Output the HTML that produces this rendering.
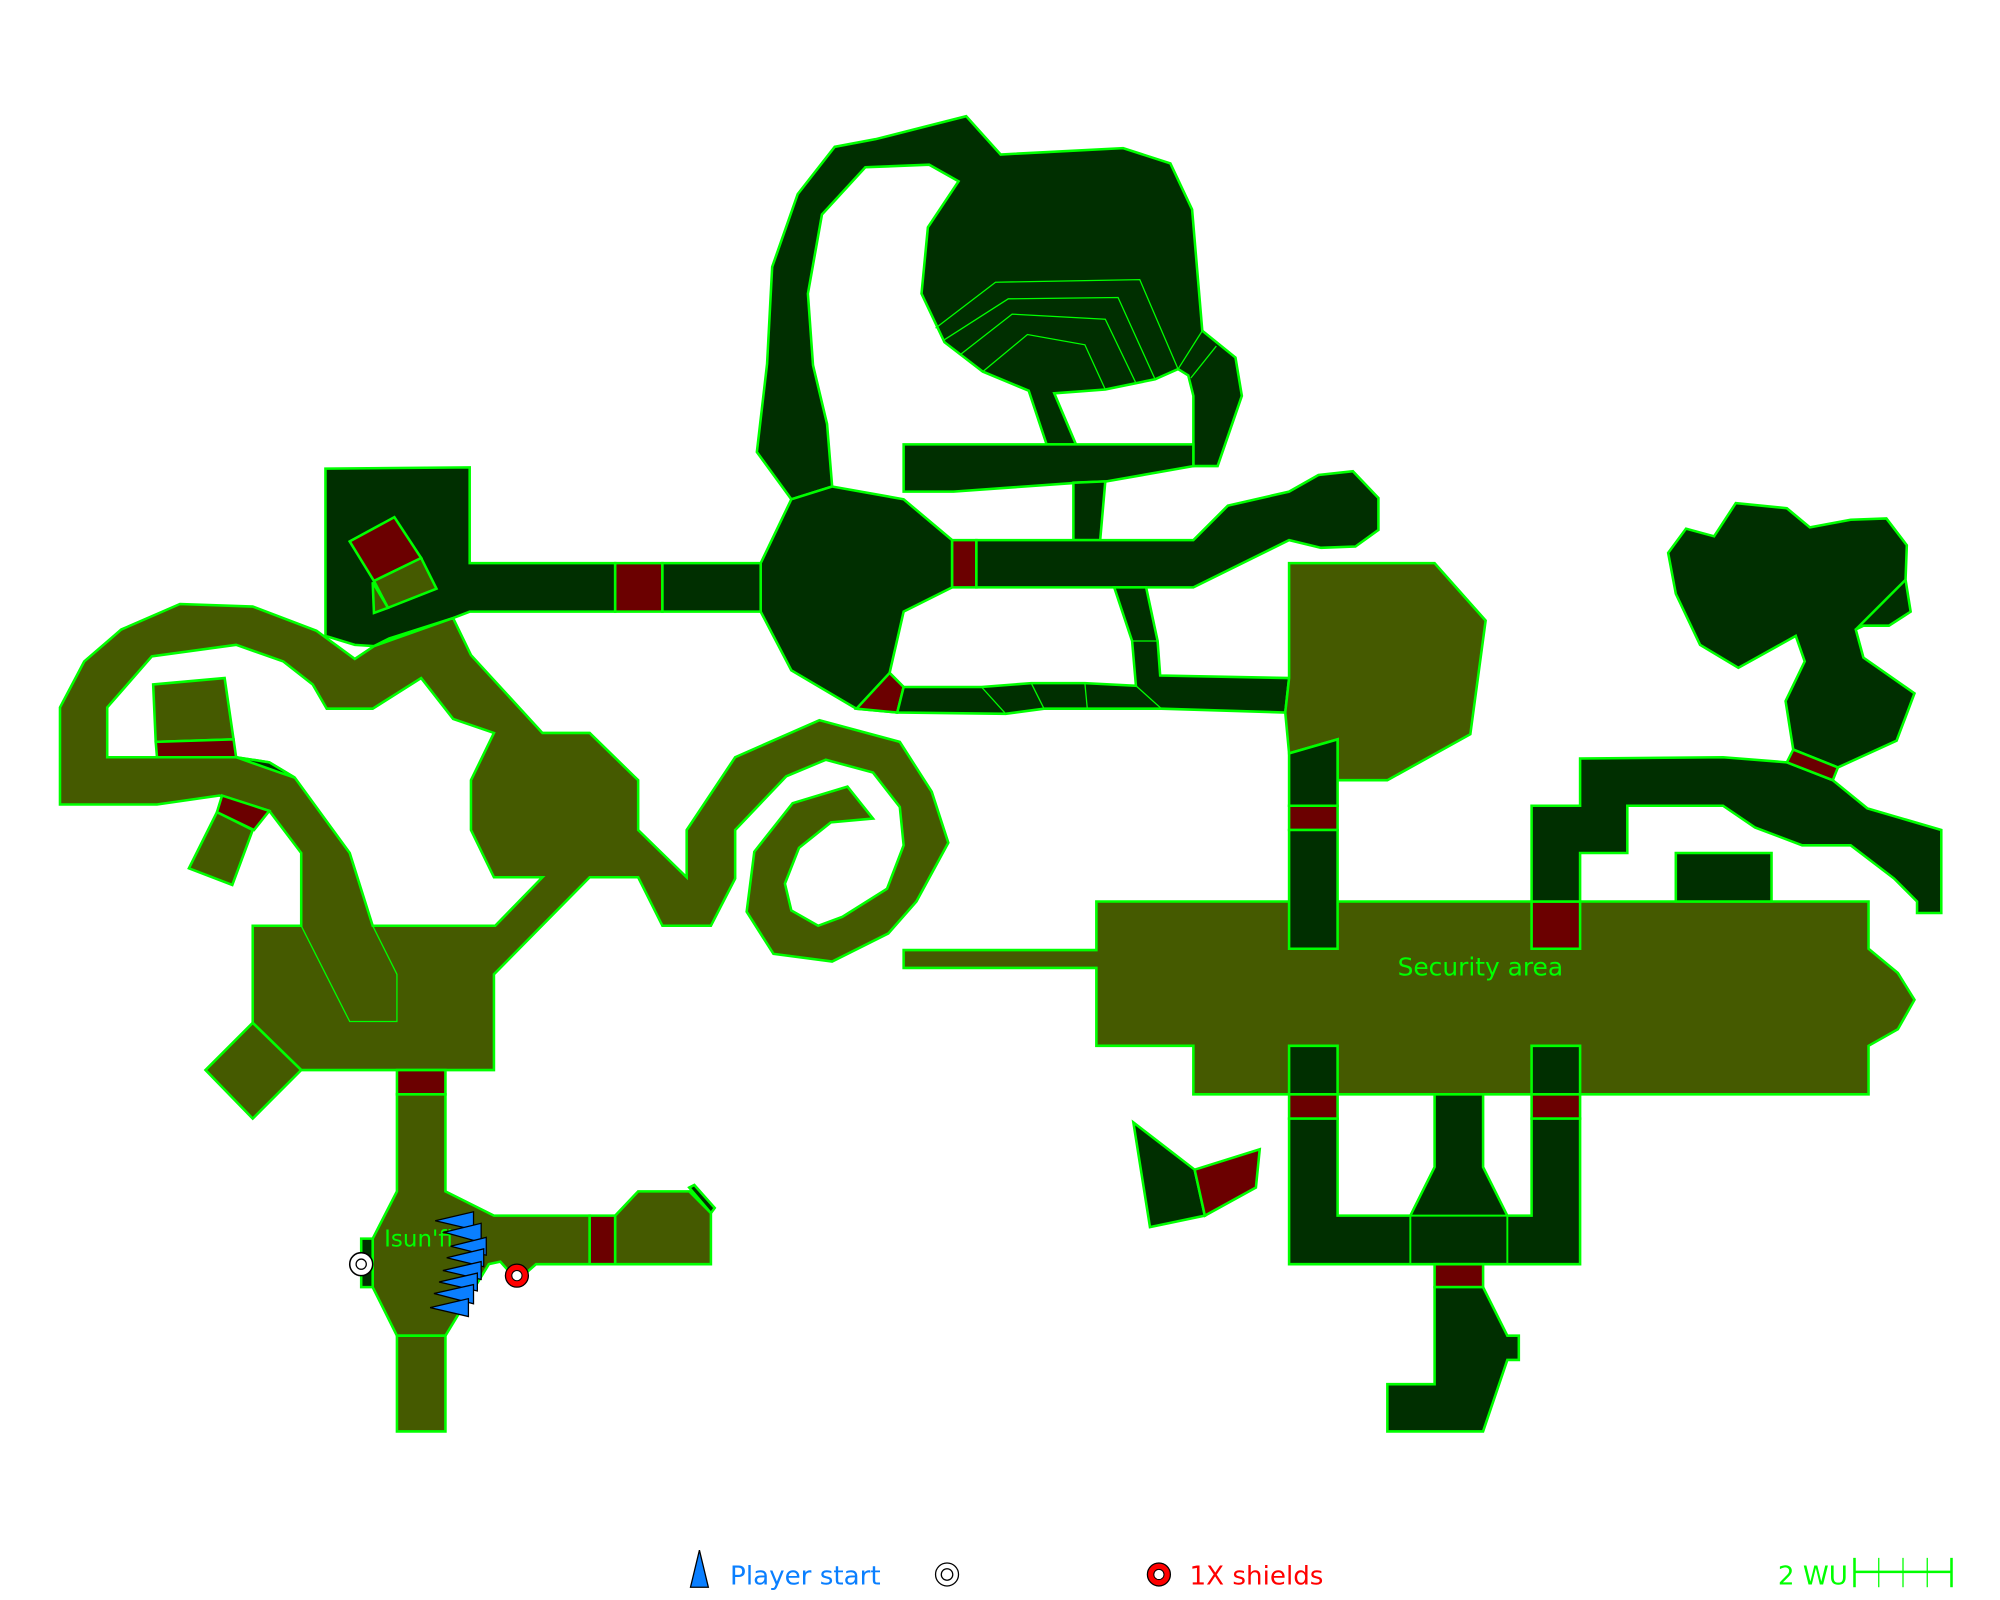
<!DOCTYPE html>
<html><head><meta charset="utf-8"><style>html,body{margin:0;padding:0;background:#fff}svg{display:block}</style></head>
<body>
<svg width="2000" height="1600" viewBox="0 0 1567 1253" preserveAspectRatio="none" xmlns="http://www.w3.org/2000/svg" font-family="'DejaVu Sans','Liberation Sans',sans-serif">
<g stroke="#00ff00" stroke-width="2" stroke-linejoin="miter">
<polygon fill="#002f00" points="593,354 601,285 605,209 625,152 654,115 686,109 757,91 784,121 880,116 917,128 934,164 942,259 968,280 973,310 954,365 935,365 935,310 931,294 923,289 905,297 866,305 826,308 843,348 820,348 806,306 770,291 740,268 722,230 727,178 751,142 728,129 678,131 644,168 633,230 637,286 648,332 652,381 620,391"/>
<g fill="none" stroke-width="1">
<polyline points="733,257 780,221 893,219 923,289"/>
<polyline points="740,266 790,234 876,233 905,297"/>
<polyline points="752,278 793,246 866,250 890,300"/>
<polyline points="770,291 805,262 850,270 866,305"/>
<line x1="923" y1="289" x2="942" y2="259"/><line x1="933" y1="296" x2="953" y2="271"/>
</g>
<polygon fill="#002f00" points="708,348 935,348 935,365 867,377 845,378 747,385 708,385"/>
<polygon fill="#002f00" points="841,378 866,377 862,423 841,423"/>
<polygon fill="#002f00" points="596,441 620,391 652,381 708,391 746,423 746,460 708,479 697,527 708,538 703,558 671,555 620,525 596,479"/>
<polygon fill="#6b0000" points="697,527 708,538 703,558 671,555"/>
<polygon fill="#6b0000" points="746,423 765,423 765,460 746,460"/>
<polygon fill="#002f00" points="765,423 935,423 962,396 1010,385 1033,372 1060,369 1080,390 1080,415 1062,428 1035,429 1010,423 935,460 765,460"/>
<polygon fill="#002f00" points="873,460 898,460 907,502 909,529 1010,531 1007,558 910,555 818,555 788,559 703,558 708,538 769,538 808,535 850,535 890,537 887,502"/>
<g fill="none" stroke-width="1"><polyline points="769,538 788,559"/><polyline points="808,535 818,555"/><polyline points="850,535 852,556"/><polyline points="890,537 910,555"/><line x1="887" y1="502" x2="907" y2="502"/></g>
<polygon fill="#002f00" points="255,367 368,366 368,441 482,441 482,479 368,479 355,484 305,500 293,506 278,505 255,498"/>
<polygon fill="#6b0000" points="482,441 519,441 519,479 482,479"/>
<polygon fill="#002f00" points="519,441 596,441 596,479 519,479"/>
<polygon fill="#6b0000" points="274,424 309,405 330,437 293,455"/>
<polygon fill="#455a00" points="293,455 330,437 342,461 304,476"/>
<polygon fill="#455a00" points="292,456 304,476 293,480"/>
<path fill="#455a00" fill-rule="evenodd" d="M47,630 L47,554 66,518 95,493 141,473 198,475 248,494 278,516 293,506 355,484 369,513 425,574 462,574 500,611 500,650 538,687 538,650 576,593 642,564 705,581 730,620 743,660 718,706 696,731 652,753 606,747 585,714 591,667 621,629 664,616 684,641 651,644 626,664 615,692 620,713 641,725 660,718 695,696 708,662 705,632 684,605 647,595 616,608 576,650 576,688 557,725 519,725 500,687 462,687 387,763 387,838 236,838 198,801 198,725 236,725 236,668 211,635 172,623 123,630 Z M84,593 L84,554 119,514 185,505 222,518 245,536 256,555 292,555 330,531 355,563 387,574 369,611 369,650 387,687 425,687 388,725 292,725 274,668 231,609 211,597 185,593 Z"/>
<polygon fill="#002f00" points="185,593 211,597 231,609 222,606"/>
<polyline fill="none" stroke-width="1" points="236,725 274,800 311,800 311,763 292,725"/>
<polygon fill="#455a00" points="161,838 198,801 236,838 198,876"/>
<polygon fill="#455a00" points="148,680 170,636 198,650 182,693"/>
<polygon fill="#6b0000" points="174,623 211,635 199,650 170,636"/>
<polygon fill="#455a00" points="120,536 176,531 183,579 122,581"/>
<polygon fill="#6b0000" points="122,581 183,579 185,593 123,593"/>
<polygon fill="#6b0000" points="311,838 349,838 349,857 311,857"/>
<polygon fill="#455a00" points="311,857 349,857 349,933 387,952 462,952 462,990 420,990 412,997 400,997 392,988 383,990 349,1046 311,1046 292,1008 292,970 311,933"/>
<polygon fill="#002f00" points="283,970 292,970 292,1008 283,1008"/>
<polygon fill="#455a00" points="311,1046 349,1046 349,1121 311,1121"/>
<polygon fill="#6b0000" points="462,952 482,952 482,990 462,990"/>
<polygon fill="#455a00" points="482,952 500,933 540,933 557,950 557,990 482,990"/>
<polygon fill="#002f00" points="540,930 544,928 560,946 557,950"/>
<polygon fill="#455a00" points="1010,441 1124,441 1164,486 1152,575 1087,611 1048,611 1048,579 1010,590 1007,558 1010,531"/>
<polygon fill="#002f00" points="1010,590 1048,579 1048,631 1010,631"/>
<polygon fill="#6b0000" points="1010,631 1048,631 1048,650 1010,650"/>
<polygon fill="#455a00" points="859,706 1464,706 1464,743 1487,762 1500,783 1487,806 1464,819 1464,857 935,857 935,819 859,819 859,758 708,758 708,744 859,744"/>
<polygon fill="#002f00" points="1010,650 1048,650 1048,743 1010,743"/>
<polygon fill="#002f00" points="1010,819 1048,819 1048,857 1010,857"/>
<polygon fill="#002f00" points="1200,819 1238,819 1238,857 1200,857"/>
<polygon fill="#6b0000" points="1200,706 1238,706 1238,743 1200,743"/>
<polygon fill="#002f00" points="1313,668 1388,668 1388,706 1313,706"/>
<polygon fill="#002f00" points="1200,706 1200,631 1238,631 1238,594 1350,593 1400,597 1436,611 1463,633 1521,650 1521,715 1502,715 1502,706 1484,688 1450,662 1412,662 1375,648 1350,631 1275,631 1275,668 1238,668 1238,706"/>
<polygon fill="#002f00" points="1307,433 1321,414 1343,420 1360,394 1400,398 1418,413 1450,407 1478,406 1494,427 1493,454 1497,479 1480,490 1460,490 1454,493 1460,515 1500,543 1486,580 1440,601 1405,587 1399,549 1414,518 1407,498 1362,523 1332,505 1313,465"/>
<line x1="1454" y1="493" x2="1493" y2="454"/>
<polygon fill="#6b0000" points="1405,587 1440,601 1436,611 1400,597"/>
<polygon fill="#6b0000" points="1010,857 1048,857 1048,876 1010,876"/>
<polygon fill="#6b0000" points="1200,857 1238,857 1238,876 1200,876"/>
<polygon fill="#002f00" points="1010,876 1048,876 1048,952 1105,952 1124,914 1124,857 1162,857 1162,914 1181,952 1200,952 1200,876 1238,876 1238,990 1010,990"/>
<g fill="none" stroke-width="1.5"><line x1="1105" y1="952" x2="1105" y2="990"/><line x1="1181" y1="952" x2="1181" y2="990"/><line x1="1105" y1="952" x2="1181" y2="952"/></g>
<polygon fill="#6b0000" points="1124,990 1162,990 1162,1008 1124,1008"/>
<polygon fill="#002f00" points="1124,1008 1162,1008 1181,1046 1190,1046 1190,1065 1181,1065 1162,1121 1087,1121 1087,1084 1124,1084"/>
<polygon fill="#002f00" points="888,879 936,916 944,952 901,961"/>
<polygon fill="#6b0000" points="936,916 987,900 984,930 944,952"/>
</g>
<text x="301" y="976" fill="#00ff00" font-size="18">Isun'fi</text>
<text x="1095" y="764" fill="#00ff00" font-size="19.5">Security area</text>
<g fill="#0a7fff" stroke="#000" stroke-width="1">
<polygon points="341,956 371,949 371,963"/>
<polygon points="348,965 377,958 377,973"/>
<polygon points="353,976 381,969 381,983"/>
<polygon points="350,985 379,978 379,992"/>
<polygon points="347,995 377,988 377,1002"/>
<polygon points="344,1004 374,997 374,1011"/>
<polygon points="340,1013 371,1006 371,1021"/>
<polygon points="337,1024 367,1017 367,1031"/>
</g>
<circle cx="283" cy="990" r="9" fill="#fff" stroke="#000" stroke-width="1.2"/>
<circle cx="283" cy="990" r="4" fill="none" stroke="#000" stroke-width="1"/>
<circle cx="405" cy="999" r="9" fill="#ff0000" stroke="#000" stroke-width="1"/>
<circle cx="405" cy="999" r="4" fill="#fff" stroke="#000" stroke-width="0.8"/>
<polygon points="548,1214 541,1243 555,1243" fill="#0a7fff" stroke="#000" stroke-width="1"/>
<text x="572" y="1241" fill="#0a7fff" font-size="20.5">Player start</text>
<circle cx="742" cy="1233" r="9" fill="#fff" stroke="#000" stroke-width="1"/>
<circle cx="742" cy="1233" r="4.5" fill="none" stroke="#000" stroke-width="1"/>
<circle cx="908" cy="1233" r="9" fill="#ff0000" stroke="#000" stroke-width="1"/>
<circle cx="908" cy="1233" r="4" fill="#fff" stroke="#000" stroke-width="0.8"/>
<text x="932" y="1241" fill="#ff0000" font-size="20.5">1X shields</text>
<text x="1393" y="1241" fill="#00ff00" font-size="20.5">2 WU</text>
<g stroke="#00ff00" stroke-width="2"><line x1="1453" y1="1231" x2="1529" y2="1231"/>
<line x1="1453" y1="1220" x2="1453" y2="1243"/><line x1="1472" y1="1220" x2="1472" y2="1243" stroke-width="1"/><line x1="1491" y1="1220" x2="1491" y2="1243" stroke-width="1"/><line x1="1510" y1="1220" x2="1510" y2="1243" stroke-width="1"/><line x1="1529" y1="1220" x2="1529" y2="1243"/></g>
</svg>
</body></html>
